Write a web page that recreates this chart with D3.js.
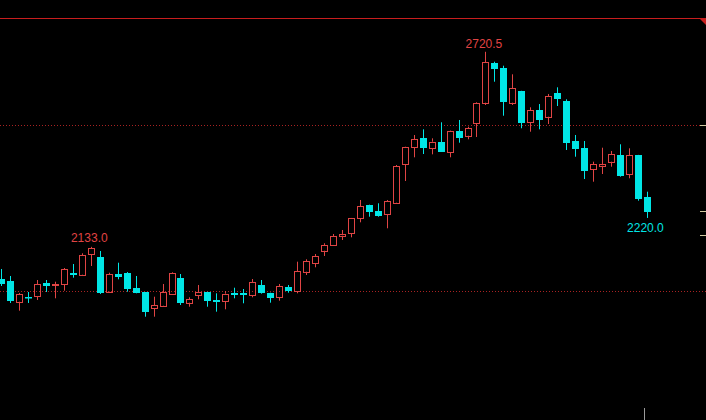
<!DOCTYPE html>
<html>
<head>
<meta charset="utf-8">
<script src="https://cdn.jsdelivr.net/npm/d3@7/dist/d3.min.js"></script>
<style>
html,body{margin:0;padding:0;background:#000;overflow:hidden;}
svg{display:block;}
</style>
</head>
<body>
<svg id="chart" width="706" height="420"></svg>
<script>
const opens  = [2036.1,2030.1,1967.8,1982.8,1984.9,2025.0,2017.2,2020.2,2055.1,2049.1,
                2110.5,2103.3,1997.9,2051.2,2055.1,2008.1,1996.1,1947.9,1955.7,1990.1,
                2038.3,1964.8,1987.0,1996.1,1972.9,1969.0,1994.9,1993.1,1987.0,2018.1,
                1994.0,1981.0,2013.0,2000.0,2058.1,2083.4,2121.4,2138.6,2166.6,2173.8,
                2219.0,2259.0,2241.0,2231.0,2266.0,2381.6,2432.8,2459.9,2429.8,2449.7,
                2417.8,2482.8,2467.8,2505.1,2567.2,2687.6,2672.6,2567.2,2602.4,2508.1,
                2545.2,2525.0,2595.5,2572.3,2451.8,2429.8,2366.6,2377.4,2389.5,2409.6,
                2352.4,2409.6,2284.0];
const highs  = [2066.3,2045.2,1994.0,1997.0,2033.1,2033.1,2028.0,2069.3,2081.3,2113.6,
                2133.0,2120.5,2055.1,2085.2,2057.0,2045.2,1997.0,1982.8,2021.1,2056.3,
                2051.2,1981.0,2018.1,1997.5,1993.1,2000.0,2009.9,2006.0,2036.1,2033.1,
                1995.0,2021.1,2018.1,2088.3,2095.5,2111.4,2143.7,2171.7,2183.7,2220.0,
                2274.1,2260.0,2264.2,2274.1,2379.5,2434.6,2469.9,2487.0,2459.9,2508.1,
                2484.0,2515.1,2494.9,2568.4,2720.5,2690.6,2678.6,2652.7,2603.0,2553.3,
                2563.2,2593.4,2613.5,2577.4,2469.9,2451.8,2389.5,2431.6,2421.7,2441.9,
                2429.8,2410.0,2299.1];
const lows   = [2015.1,1963.9,1940.7,1963.9,1972.9,1997.0,1978.0,2000.9,2040.1,2048.2,
                2075.3,1991.0,1994.9,2035.2,1997.9,1993.1,1922.6,1922.6,1954.0,1989.0,
                1957.8,1952.7,1975.0,1952.7,1937.7,1944.9,1978.0,1963.0,1981.0,1992.0,
                1964.8,1970.8,1994.9,1993.1,2048.2,2071.4,2105.4,2135.5,2153.6,2161.7,
                2206.9,2223.8,2223.8,2188.9,2264.2,2331.3,2402.7,2412.6,2411.7,2419.0,
                2402.7,2446.7,2456.9,2463.8,2560.2,2630.4,2528.0,2560.2,2490.1,2479.8,
                2487.0,2503.0,2557.2,2424.7,2404.5,2337.3,2329.2,2352.4,2374.4,2344.3,
                2339.5,2272.0,2220.0];
const closes = [2021.1,1969.9,1990.1,1978.0,2021.1,2016.0,2021.1,2065.4,2049.1,2108.4,
                2129.0,1993.1,2051.2,2043.1,2005.1,1994.9,1935.8,1957.8,1996.1,2053.3,
                1963.0,1975.0,1997.0,1970.8,1966.9,1991.9,1987.0,1987.0,2027.1,1993.1,
                1978.0,2015.1,2000.9,2060.2,2090.4,2105.4,2138.6,2165.7,2171.7,2219.0,
                2256.0,2238.9,2225.9,2271.1,2376.5,2432.8,2456.9,2429.8,2449.7,2419.6,
                2482.8,2461.7,2490.1,2566.3,2688.8,2667.8,2570.2,2610.5,2505.1,2545.2,
                2515.1,2587.3,2578.3,2446.7,2426.8,2362.3,2381.6,2382.5,2412.6,2347.3,
                2409.6,2276.2,2238.9];
const categories = d3.range(opens.length);
const gridLevels = [2500, 2000];
const rightTicks = [2500, 2241, 2169];

const W = 706, H = 420;
const RED = "#e04444", CYAN = "#00e6e6";
const svg = d3.select("#chart");
svg.append("rect").attr("width", W).attr("height", H).attr("fill", "#000");

const x = d3.scaleBand().domain(categories).range([-4, -4 + 9 * categories.length]).padding(0.25);
const y = d3.scaleLinear().domain([2000, 2500]).range([291, 125]);

// top border line
svg.append("line").attr("x1", 0).attr("x2", W).attr("y1", 18.5).attr("y2", 18.5)
  .attr("stroke", "#c81e1e").attr("stroke-width", 1);
svg.append("path").attr("d", "M699,18 L706,18 L706,25 Z").attr("fill", "#c81e1e");

// dotted grid
svg.selectAll("line.grid").data(gridLevels).enter().append("line")
  .attr("class", "grid")
  .attr("x1", 0).attr("x2", W)
  .attr("y1", d => Math.round(y(d)) + 0.5).attr("y2", d => Math.round(y(d)) + 0.5)
  .attr("stroke", "#a82222").attr("stroke-width", 1).attr("stroke-dasharray", "1,2");

// right side ticks
svg.selectAll("line.rt").data(rightTicks).enter().append("line")
  .attr("x1", 700).attr("x2", 706)
  .attr("y1", d => Math.round(y(d)) + 0.5).attr("y2", d => Math.round(y(d)) + 0.5)
  .attr("stroke", "#d0c8a0").attr("stroke-width", 1);
svg.append("line").attr("x1", 644.5).attr("x2", 644.5).attr("y1", 408).attr("y2", 420)
  .attr("stroke", "#9a9a9a").attr("stroke-width", 1);

const data = categories.map(i => ({i, o: opens[i], h: highs[i], l: lows[i], c: closes[i]}));
const cx = d => x(d.i) + x.bandwidth() / 2;

const g = svg.append("g");
data.forEach(d => {
  const up = d.c >= d.o;
  const col = up ? RED : CYAN;
  const wx = Math.floor(cx(d)) + 0.5;
  const left = Math.floor(cx(d)) - 3;
  const top = y(Math.max(d.o, d.c)), bot = y(Math.min(d.o, d.c));
  if (up) {
    g.append("line").attr("x1", wx).attr("x2", wx).attr("y1", y(d.h)).attr("y2", top)
      .attr("stroke", col);
    g.append("line").attr("x1", wx).attr("x2", wx).attr("y1", bot).attr("y2", y(d.l))
      .attr("stroke", col);
    g.append("rect").attr("x", left + 0.5).attr("y", Math.round(top) + 0.5)
      .attr("width", 6).attr("height", Math.max(1, Math.round(bot) - Math.round(top)))
      .attr("fill", "none").attr("stroke", col).attr("stroke-width", 1);
  } else {
    g.append("line").attr("x1", wx).attr("x2", wx).attr("y1", y(d.h)).attr("y2", y(d.l))
      .attr("stroke", col);
    g.append("rect").attr("x", left).attr("y", Math.round(top))
      .attr("width", 7).attr("height", Math.max(1.5, Math.round(bot) - Math.round(top)))
      .attr("fill", col);
  }
});

// annotations
const maxIdx = d3.maxIndex(highs);
const annotations = [
  {i: maxIdx, text: highs[maxIdx].toFixed(1), col: RED, yy: y(highs[maxIdx]) - 4},
  {i: 10, text: highs[10].toFixed(1), col: RED, yy: y(highs[10]) - 5},
  {i: 72, text: lows[72].toFixed(1), col: CYAN, yy: y(lows[72]) + 14}
];
svg.selectAll("text.ann").data(annotations).enter().append("text")
  .attr("x", d => cx(data[d.i]) - 2).attr("y", d => d.yy)
  .attr("text-anchor", "middle")
  .attr("font-family", "Liberation Sans, Arial, sans-serif").attr("font-size", 12)
  .attr("fill", d => d.col).text(d => d.text);
</script>
</body>
</html>
